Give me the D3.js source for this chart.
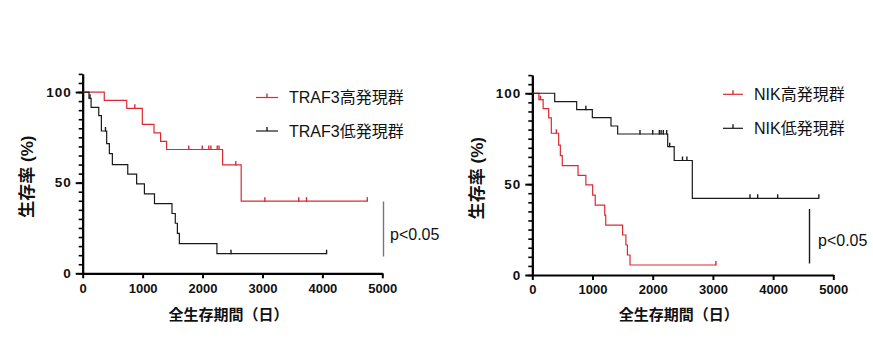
<!DOCTYPE html>
<html>
<head>
<meta charset="utf-8">
<script src="https://cdn.jsdelivr.net/npm/d3@7"></script>
<style>
  body { margin: 0; background: #fff; }
  svg { display: block; }
  text { font-family: "Liberation Sans", Arial, "Noto Sans CJK JP", sans-serif; }
</style>
</head>
<body>
<svg id="chart" width="873" height="353"></svg>
<script>
// x axis ticks (days) and y ticks (%)
const xTicks = [0, 1000, 2000, 3000, 4000, 5000];
const yTicks = [0, 50, 100];
const yMinorTicks = d3.range(0, 111, 5);

// TRAF3 panel: [day, survival %] after each step, censor days
const traf3HighSteps = [[0, 100], [360, 95.4], [735, 91], [995, 82.2], [1190, 77.5], [1300, 72.8], [1400, 68.3], [2335, 59.8], [2645, 39.8]];
const traf3HighCensor = [870, 1770, 1995, 2105, 2140, 2245, 2275, 2555, 3040, 3605, 3735, 4750];
const traf3LowSteps = [[0, 100], [105, 96.5], [140, 91.5], [268, 87], [312, 78.5], [400, 71.5], [445, 66], [495, 60], [752, 54.7], [900, 49.3], [1030, 43.8], [1198, 38.4], [1490, 33], [1545, 27.6], [1580, 22], [1613, 16.4], [2240, 10.8]];
const traf3LowCensor = [122, 380, 2475, 4070];

// NIK panel
const nikHighSteps = [[0, 100], [110, 96.5], [180, 91.5], [272, 86.5], [316, 78], [438, 71.5], [466, 65.7], [498, 60.2], [760, 54.8], [890, 49.6], [1003, 44], [1045, 38.5], [1203, 33], [1220, 27.5], [1500, 22], [1555, 16.5], [1580, 11], [1623, 5.5]];
const nikHighCensor = [135, 400, 3050];
const nikLowSteps = [[0, 100], [372, 95.4], [737, 91], [997, 86.6], [1307, 82], [1418, 77.6], [2249, 70.6], [2357, 63], [2658, 42.2]];
const nikLowCensor = [890, 1789, 2000, 2110, 2140, 2176, 2232, 2282, 2495, 2568, 3616, 3744, 4076, 4760];

const RED = '#dc2a33';
const BLACK = '#1a1a1a';

const svg = d3.select('#chart');

const panels = [
  {
    left: 82.7, right: 382.3, top: 73.9, bottom: 273.3,
    series: [
      { name: 'TRAF3高発現群', steps: traf3HighSteps, censor: traf3HighCensor, color: RED },
      { name: 'TRAF3低発現群', steps: traf3LowSteps, censor: traf3LowCensor, color: BLACK }
    ],
    legendX: 256, legendY: [97.5, 131], legendLen: 22,
    yTitleX: 27,
    pLine: { x: 383.5, y1: 201.5, y2: 256.5, color: '#777' },
    pText: { x: 390, y: 234 }
  },
  {
    left: 532.3, right: 833.3, top: 75.1, bottom: 275,
    series: [
      { name: 'NIK高発現群', steps: nikHighSteps, censor: nikHighCensor, color: RED },
      { name: 'NIK低発現群', steps: nikLowSteps, censor: nikLowCensor, color: BLACK }
    ],
    legendX: 723, legendY: [94.3, 128.3], legendLen: 20,
    yTitleX: 477,
    pLine: { x: 809.5, y1: 209, y2: 263.5, color: BLACK },
    pText: { x: 818, y: 240.5 }
  }
];

function levelAt(steps, t) {
  let v = steps[0][1];
  steps.forEach(s => { if (s[0] <= t) v = s[1]; });
  return v;
}

panels.forEach(p => {
  const x = d3.scaleLinear().domain([0, 5000]).range([p.left, p.right]);
  const y = d3.scaleLinear().domain([0, 110]).range([p.bottom, p.top]);
  const g = svg.append('g');

  // minor y ticks
  g.append('g')
    .attr('transform', `translate(${p.left},0)`)
    .call(d3.axisLeft(y).tickValues(yMinorTicks).tickSize(4).tickSizeOuter(0).tickFormat(''))
    .call(a => a.selectAll('line,path').attr('stroke', '#000').attr('stroke-width', 1.6));

  // main y axis
  g.append('g')
    .attr('transform', `translate(${p.left},0)`)
    .call(d3.axisLeft(y).tickValues(yTicks).tickSize(7).tickSizeOuter(0).tickPadding(4).tickFormat(d3.format('d')))
    .call(a => a.select('.domain').attr('stroke', '#000').attr('stroke-width', 2.2))
    .call(a => a.selectAll('.tick line').attr('stroke', '#000').attr('stroke-width', 2))
    .call(a => a.selectAll('text').attr('font-size', 13.5).attr('font-weight', 'bold')
      .attr('letter-spacing', 1).attr('fill', '#111'));

  // x axis
  g.append('g')
    .attr('transform', `translate(0,${p.bottom})`)
    .call(d3.axisBottom(x).tickValues(xTicks).tickSize(5).tickSizeOuter(0).tickPadding(5).tickFormat(d3.format('d')))
    .call(a => a.select('.domain').attr('stroke', '#000').attr('stroke-width', 2.2))
    .call(a => a.selectAll('.tick line').attr('stroke', '#000').attr('stroke-width', 2))
    .call(a => a.selectAll('text').attr('font-size', 13).attr('font-weight', 'bold').attr('fill', '#111'));

  // axis titles
  g.append('text')
    .attr('transform', `translate(${p.yTitleX},${(p.top + p.bottom) / 2 + 3}) rotate(-90)`)
    .attr('text-anchor', 'middle')
    .attr('dominant-baseline', 'central')
    .attr('font-size', 17)
    .attr('font-weight', 'bold')
    .attr('fill', '#111')
    .text('生存率 (%)');

  g.append('text')
    .attr('x', (p.left + p.right) / 2 - 4)
    .attr('y', 314)
    .attr('text-anchor', 'middle')
    .attr('dominant-baseline', 'central')
    .attr('font-size', 15)
    .attr('font-weight', 'bold')
    .attr('fill', '#111')
    .text('全生存期間（日）');

  // curves
  const line = d3.line().x(d => x(d[0])).y(d => y(d[1])).curve(d3.curveStepAfter);
  p.series.forEach((s, i) => {
    const lastT = d3.max(s.censor.concat(s.steps.map(d => d[0])));
    const pts = s.steps.concat([[lastT, levelAt(s.steps, lastT)]]);
    g.append('path')
      .attr('d', line(pts))
      .attr('fill', 'none')
      .attr('stroke', s.color)
      .attr('stroke-width', 1.2);

    g.selectAll(null)
      .data(s.censor)
      .enter()
      .append('line')
      .attr('x1', d => x(d)).attr('x2', d => x(d))
      .attr('y1', d => y(levelAt(s.steps, d)) - 4)
      .attr('y2', d => y(levelAt(s.steps, d)) + 0.5)
      .attr('stroke', s.color)
      .attr('stroke-width', 1.4);

    // legend
    const ly = p.legendY[i];
    g.append('line')
      .attr('x1', p.legendX).attr('x2', p.legendX + p.legendLen)
      .attr('y1', ly).attr('y2', ly)
      .attr('stroke', s.color).attr('stroke-width', 1.2);
    g.append('line')
      .attr('x1', p.legendX + p.legendLen / 2).attr('x2', p.legendX + p.legendLen / 2)
      .attr('y1', ly - 4).attr('y2', ly)
      .attr('stroke', s.color).attr('stroke-width', 1.4);
    g.append('text')
      .attr('x', p.legendX + p.legendLen + 11)
      .attr('y', ly)
      .attr('dominant-baseline', 'central')
      .attr('font-size', 16)
      .attr('fill', '#111')
      .text(s.name);
  });

  // significance bar
  g.append('line')
    .attr('x1', p.pLine.x).attr('x2', p.pLine.x)
    .attr('y1', p.pLine.y1).attr('y2', p.pLine.y2)
    .attr('stroke', p.pLine.color).attr('stroke-width', 1.4);
  g.append('text')
    .attr('x', p.pText.x)
    .attr('y', p.pText.y)
    .attr('dominant-baseline', 'central')
    .attr('font-size', 16)
    .attr('fill', '#111')
    .text('p<0.05');
});
</script>
</body>
</html>
